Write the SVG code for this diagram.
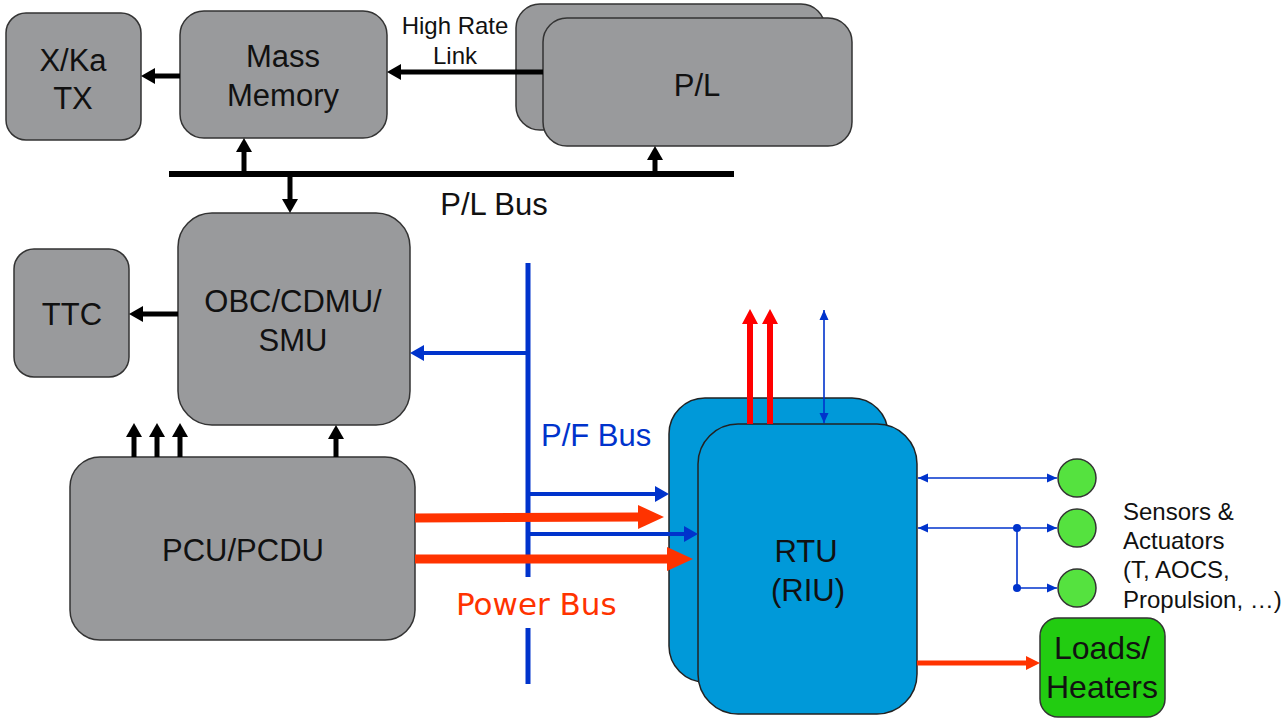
<svg xmlns="http://www.w3.org/2000/svg" width="1288" height="721" viewBox="0 0 1288 721">
<style>
.box{fill:#999a9c;stroke:#333;stroke-width:1.5}
.rtu{fill:#0099d9;stroke:#222;stroke-width:1.5}
.sen{fill:#55e23f;stroke:#333;stroke-width:1.5}
.load{fill:#22cc11;stroke:#333;stroke-width:1.5}
.t{font-family:"Liberation Sans",Arial,sans-serif;font-size:31px;fill:#111;text-anchor:middle}
.ts{font-family:"Liberation Sans",Arial,sans-serif;font-size:24px;fill:#111}
.bk{stroke:#000;stroke-width:5;fill:none}
.bl{stroke:#0033cc;stroke-width:4;fill:none}
.blt{stroke:#0033cc;stroke-width:1.6;fill:none}
.or{stroke:#ff3300;stroke-width:9;fill:none}
.rd{stroke:#ff0000;stroke-width:6;fill:none}
</style>
<defs>
<marker id="hb" markerUnits="userSpaceOnUse" markerWidth="14" markerHeight="16" viewBox="0 0 14 16" refX="0" refY="8" orient="auto"><path d="M0,0L14,8L0,16z" fill="#000"/></marker>
<marker id="hbl" markerUnits="userSpaceOnUse" markerWidth="14" markerHeight="16" viewBox="0 0 14 16" refX="0" refY="8" orient="auto"><path d="M0,0L14,8L0,16z" fill="#0033cc"/></marker>
<marker id="hor" markerUnits="userSpaceOnUse" markerWidth="26" markerHeight="24" viewBox="0 0 26 24" refX="0" refY="12" orient="auto"><path d="M0,0L26,12L0,24z" fill="#ff3300"/></marker>
<marker id="hors" markerUnits="userSpaceOnUse" markerWidth="14" markerHeight="14" viewBox="0 0 14 14" refX="0" refY="7" orient="auto"><path d="M0,0L14,7L0,14z" fill="#ff3300"/></marker>
<marker id="hrd" markerUnits="userSpaceOnUse" markerWidth="15" markerHeight="16" viewBox="0 0 15 16" refX="0" refY="8" orient="auto"><path d="M0,0L15,8L0,16z" fill="#ff0000"/></marker>
<marker id="ht" markerUnits="userSpaceOnUse" markerWidth="10" markerHeight="10" viewBox="0 0 10 10" refX="10" refY="5" orient="auto-start-reverse"><path d="M0,0.5L10,5L0,9.5z" fill="#0033cc"/></marker>
</defs>

<g id="xka"><rect class="box" x="6" y="13" width="135" height="127" rx="20"/><text class="t" x="73" y="71">X/Ka</text><text class="t" x="73" y="109">TX</text></g>
<g id="massmem"><rect class="box" x="180" y="11" width="207" height="127" rx="24"/><text class="t" x="283" y="67">Mass</text><text class="t" x="283" y="106">Memory</text></g>
<g id="pl"><rect class="box" x="516" y="4" width="309" height="126" rx="24"/><rect class="box" x="543" y="18" width="309" height="128" rx="24"/><text class="t" x="697" y="96">P/L</text></g>
<g id="ttc"><rect class="box" x="14" y="249" width="115" height="128" rx="20"/><text class="t" x="72" y="325">TTC</text></g>
<g id="obc"><rect class="box" x="178" y="213" width="232" height="212" rx="34"/><text class="t" x="293" y="312">OBC/CDMU/</text><text class="t" x="293" y="351">SMU</text></g>
<g id="pcu"><rect class="box" x="70" y="457" width="345" height="183" rx="30"/><text class="t" x="243" y="561">PCU/PCDU</text></g>
<g id="rtu"><rect class="rtu" x="669" y="398" width="219" height="284" rx="36"/><rect class="rtu" x="698" y="424" width="219" height="290" rx="40"/><text class="t" x="806" y="562">RTU</text><text class="t" x="808" y="601">(RIU)</text></g>
<g id="sensors"><circle class="sen" cx="1077" cy="478" r="19"/><circle class="sen" cx="1077" cy="528" r="19"/><circle class="sen" cx="1077" cy="588" r="19"/>
<text class="ts" x="1123" y="520">Sensors &amp;</text><text class="ts" x="1123" y="549">Actuators</text><text class="ts" x="1123" y="578">(T, AOCS,</text><text class="ts" x="1123" y="608">Propulsion, …)</text></g>
<g id="loads"><rect class="load" x="1040" y="618" width="125" height="99" rx="18"/><text class="t" x="1102" y="659" style="font-size:32px">Loads/</text><text class="t" x="1102" y="698" style="font-size:32px">Heaters</text></g>

<g id="connectors">
<line x1="169" y1="174" x2="734" y2="174" stroke="#000" stroke-width="6"/>
<line class="bk" x1="180" y1="76" x2="155" y2="76" marker-end="url(#hb)"/>
<line class="bk" x1="543" y1="72" x2="401" y2="72" marker-end="url(#hb)"/>
<line class="bk" x1="244" y1="174" x2="244" y2="152" marker-end="url(#hb)"/>
<line class="bk" x1="290" y1="174" x2="290" y2="199" marker-end="url(#hb)"/>
<line class="bk" x1="655" y1="174" x2="655" y2="160" marker-end="url(#hb)"/>
<line class="bk" x1="178" y1="314" x2="143" y2="314" marker-end="url(#hb)"/>
<line class="bk" x1="336" y1="457" x2="336" y2="439" marker-end="url(#hb)"/>
<line class="bk" x1="134" y1="457" x2="134" y2="437" marker-end="url(#hb)"/>
<line class="bk" x1="157" y1="457" x2="157" y2="437" marker-end="url(#hb)"/>
<line class="bk" x1="180" y1="457" x2="180" y2="437" marker-end="url(#hb)"/>

<line x1="528" y1="263" x2="528" y2="577" stroke="#0033cc" stroke-width="5"/>
<line x1="528" y1="628" x2="528" y2="684" stroke="#0033cc" stroke-width="5"/>
<line class="bl" x1="528" y1="353" x2="424" y2="353" marker-end="url(#hbl)"/>
<line class="bl" x1="528" y1="494" x2="655" y2="494" marker-end="url(#hbl)"/>
<line class="bl" x1="528" y1="534" x2="684" y2="534" marker-end="url(#hbl)"/>

<line class="or" x1="415" y1="518" x2="638" y2="517" marker-end="url(#hor)"/>
<line class="or" x1="415" y1="559" x2="667" y2="559" marker-end="url(#hor)"/>
<line class="rd" x1="750" y1="424" x2="750" y2="324" marker-end="url(#hrd)"/>
<line class="rd" x1="770" y1="424" x2="770" y2="324" marker-end="url(#hrd)"/>
<line class="blt" x1="824" y1="310" x2="824" y2="423" marker-start="url(#ht)" marker-end="url(#ht)"/>

<line class="blt" x1="918" y1="478" x2="1057" y2="478" marker-start="url(#ht)" marker-end="url(#ht)"/>
<line class="blt" x1="918" y1="528" x2="1057" y2="528" marker-start="url(#ht)" marker-end="url(#ht)"/>
<line class="blt" x1="1017" y1="528" x2="1017" y2="588"/>
<line class="blt" x1="1017" y1="588" x2="1057" y2="588" marker-end="url(#ht)"/>
<circle cx="1017" cy="528" r="4" fill="#0033cc"/>
<circle cx="1017" cy="588" r="4" fill="#0033cc"/>
<line x1="917" y1="663" x2="1026" y2="663" stroke="#ff3300" stroke-width="5" marker-end="url(#hors)"/>
</g>

<g id="labels">
<text class="ts" x="455" y="34" text-anchor="middle">High Rate</text>
<text class="ts" x="455" y="64" text-anchor="middle">Link</text>
<text class="t" x="494" y="215">P/L Bus</text>
<text x="541" y="446" font-family="Liberation Sans,Arial,sans-serif" font-size="31" fill="#0033cc">P/F Bus</text>
<text x="456" y="615" font-family="DejaVu Sans,Verdana,sans-serif" font-size="31" fill="#ff3300">Power Bus</text>
</g>
</svg>
